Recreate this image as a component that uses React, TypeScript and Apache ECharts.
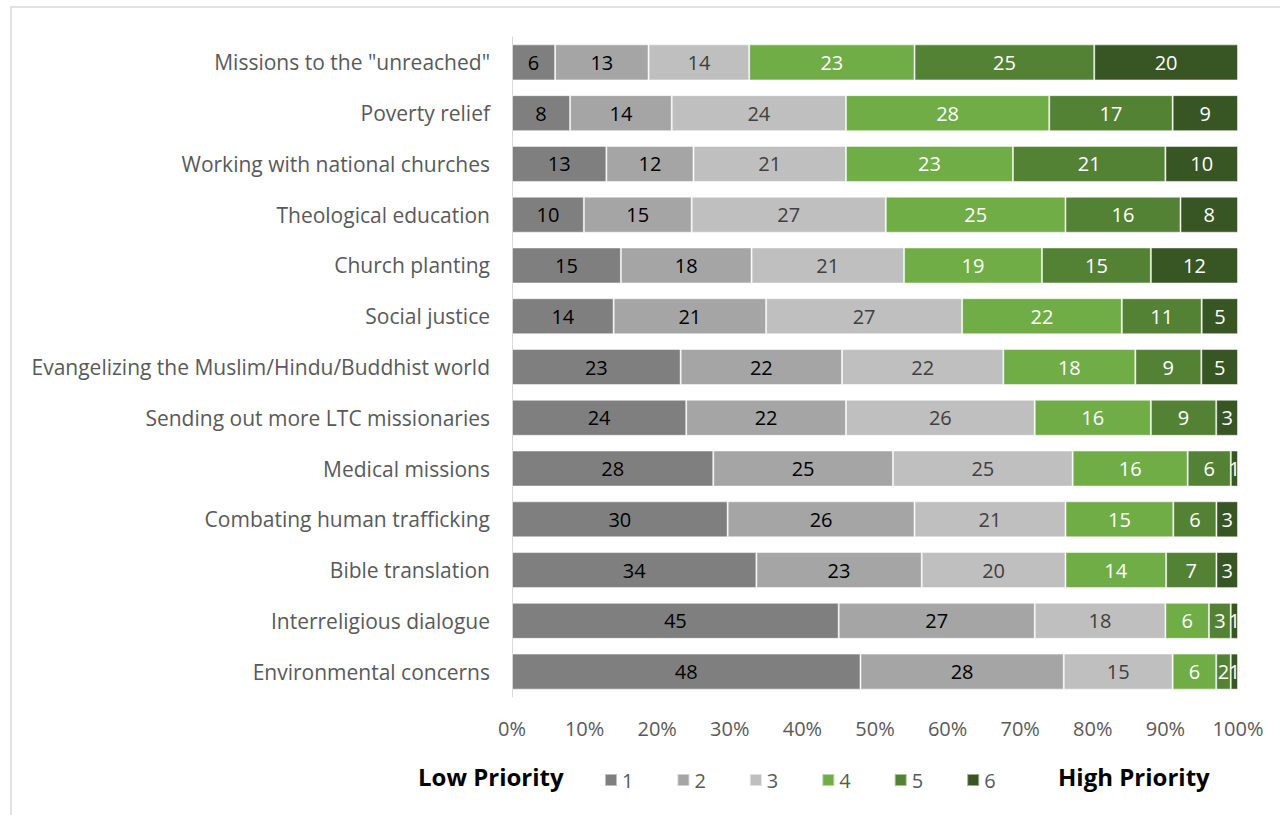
import React, { useEffect, useRef } from "react";
import * as echarts from "echarts";

const categories = [
  'Missions to the "unreached"',
  "Poverty relief",
  "Working with national churches",
  "Theological education",
  "Church planting",
  "Social justice",
  "Evangelizing the Muslim/Hindu/Buddhist world",
  "Sending out more LTC missionaries",
  "Medical missions",
  "Combating human trafficking",
  "Bible translation",
  "Interreligious dialogue",
  "Environmental concerns",
];

const seriesNames = ["1", "2", "3", "4", "5", "6"];

const p1 = [6, 8, 13, 10, 15, 14, 23, 24, 28, 30, 34, 45, 48];
const p2 = [13, 14, 12, 15, 18, 21, 22, 22, 25, 26, 23, 27, 28];
const p3 = [14, 24, 21, 27, 21, 27, 22, 26, 25, 21, 20, 18, 15];
const p4 = [23, 28, 23, 25, 19, 22, 18, 16, 16, 15, 14, 6, 6];
const p5 = [25, 17, 21, 16, 15, 11, 9, 9, 6, 6, 7, 3, 2];
const p6 = [20, 9, 10, 8, 12, 5, 5, 3, 1, 3, 3, 1, 1];

const colors = ["#7f7f7f", "#a5a5a5", "#bfbfbf", "#70ad47", "#548235", "#375623"];
const labelColors = ["#000000", "#000000", "#404040", "#ffffff", "#ffffff", "#ffffff"];

const FONT = "'Open Sans', 'Noto Sans', sans-serif";

export default function App() {
  const ref = useRef<HTMLDivElement>(null);
  useEffect(() => {
    if (!ref.current) return;
    const chart = echarts.init(ref.current, null, { renderer: "svg" });
    const all = [p1, p2, p3, p4, p5, p6];
    const totals = categories.map((_, i) => all.reduce((s, arr) => s + arr[i], 0));
    const series = all.map((arr, si) => ({
      name: seriesNames[si],
      type: "bar",
      stack: "total",
      barCategoryGap: "29%",
      data: arr.map((v, i) => ({ value: (v / totals[i]) * 100, raw: v })),
      itemStyle: { color: colors[si], borderColor: "rgba(255,255,255,0.5)", borderWidth: 1 },
      label: {
        show: true,
        position: "inside",
        color: labelColors[si],
        fontFamily: FONT,
        fontSize: 20,
        formatter: (p: any) => String(p.data.raw),
      },
    }));
    chart.setOption({
      animation: false,
      backgroundColor: "#ffffff",
      textStyle: { fontFamily: FONT },
      grid: { left: 512, right: 42, top: 37, bottom: 118 },
      xAxis: {
        type: "value",
        min: 0,
        max: 100,
        interval: 10,
        axisLine: { show: false },
        axisTick: { show: false },
        splitLine: { show: false },
        axisLabel: { formatter: "{value}%", color: "#595959", fontSize: 20, fontFamily: FONT, margin: 21 },
      },
      yAxis: {
        type: "category",
        data: categories,
        inverse: true,
        axisLine: { show: true, lineStyle: { color: "#d9d9d9", width: 1 } },
        axisTick: { show: false },
        axisLabel: { color: "#595959", fontSize: 21, fontFamily: FONT, margin: 22 },
      },
      legend: {
        data: seriesNames,
        left: 599,
        top: 765,
        icon: "rect",
        itemWidth: 12,
        itemHeight: 12,
        itemGap: 43,
        textStyle: { color: "#595959", fontSize: 20, fontFamily: FONT },
      },
      graphic: [
        {
          type: "rect",
          shape: { x: 11, y: 7, width: 1400, height: 900 },
          style: { fill: "none", stroke: "#d9d9d9", lineWidth: 1.5 },
          silent: true,
        },
        {
          type: "text",
          left: 418,
          top: 764,
          style: { text: "Low Priority", fill: "#000000", font: `bold 24px ${FONT}` },
        },
        {
          type: "text",
          left: 1058,
          top: 764,
          style: { text: "High Priority", fill: "#000000", font: `bold 24px ${FONT}` },
        },
      ],
      series,
    });
    return () => chart.dispose();
  }, []);
  return (
    <div
      ref={ref}
      style={{ position: "fixed", left: 0, top: 0, width: 1280, height: 815 }}
    />
  );
}
